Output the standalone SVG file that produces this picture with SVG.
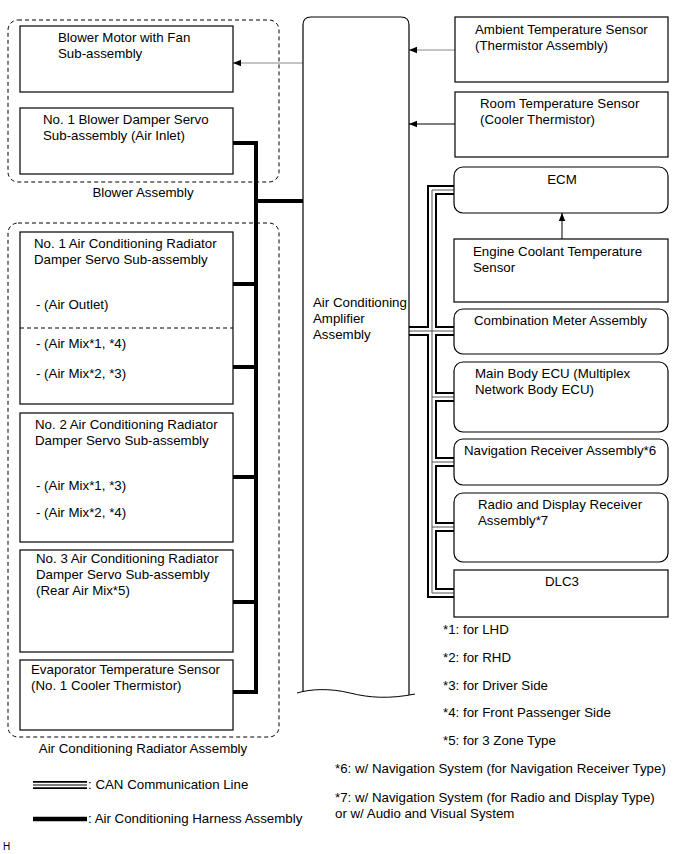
<svg xmlns="http://www.w3.org/2000/svg" width="691" height="854" viewBox="0 0 691 854">
<style>
text{font-family:"Liberation Sans",Arial,sans-serif;font-size:13.3px;fill:#000}
.box{fill:#fff;stroke:#000;stroke-width:1.2}
.grp{fill:none;stroke:#000;stroke-width:1;stroke-dasharray:4,3}
.harn{fill:none;stroke:#000;stroke-width:4;stroke-linejoin:miter}
.canB{fill:none;stroke:#000;stroke-width:10;stroke-linejoin:miter}
.canW{fill:none;stroke:#fff;stroke-width:6;stroke-linejoin:miter}
.canC{fill:none;stroke:#555;stroke-width:1;stroke-linejoin:miter}
.sig{fill:none;stroke:#000;stroke-width:1}
.sigg{fill:none;stroke:#888;stroke-width:1}
</style>
<defs>
<marker id="ah" viewBox="0 0 10 10" refX="10" refY="5" markerWidth="8" markerHeight="8" markerUnits="userSpaceOnUse" orient="auto">
<path d="M0,1 L10,5 L0,9 Z" fill="#000"/>
</marker>
</defs>
<rect width="691" height="854" fill="#fff"/>

<g id="blower-assembly">
<rect class="grp" x="8" y="20" width="271" height="162" rx="10"/>
<text x="143" y="197" text-anchor="middle">Blower Assembly</text>
</g>
<g id="ac-radiator-assembly">
<rect class="grp" x="8" y="223" width="271" height="514" rx="10"/>
<text x="143" y="753" text-anchor="middle">Air Conditioning Radiator Assembly</text>
</g>

<g id="connectors">
<path class="sigg" d="M303,63 H233" marker-end="url(#ah)"/>
<path class="sigg" d="M455,50 H409" marker-end="url(#ah)"/>
<path class="sig" d="M455,124 H409" marker-end="url(#ah)"/>
<path class="sig" d="M562,239 V213" marker-end="url(#ah)"/>
<g id="harness">
<path class="harn" d="M233,143 H256 V692 H233"/>
<path class="harn" d="M256,201 H303"/>
<path class="harn" d="M256,284 H233"/>
<path class="harn" d="M256,367 H233"/>
<path class="harn" d="M256,477 H233"/>
<path class="harn" d="M256,602 H233"/>
</g>
<g id="can">
<path class="canB" d="M454,190 H432 V593 H454 M409,331 H454 M432,397 H454 M432,462 H454 M432,527 H454"/>
<path class="canW" d="M454,190 H432 V593 H454 M409,331 H454 M432,397 H454 M432,462 H454 M432,527 H454"/>
<path class="canC" d="M454,190 H432 V593 H454 M409,331 H454 M432,397 H454 M432,462 H454 M432,527 H454"/>
</g>
</g>

<g id="amplifier">
<path d="M303,692 V25 Q303,17 311,17 H401 Q409,17 409,25 V695" fill="#fff" stroke="#000" stroke-width="1.2"/>
<path d="M297,693 C310,689 330,688 350,693 S390,699 415,694" fill="none" stroke="#000" stroke-width="1"/>
<text x="313" y="307">Air Conditioning</text>
<text x="313" y="323">Amplifier</text>
<text x="313" y="339">Assembly</text>
</g>

<g id="blower-motor">
<rect class="box" x="20" y="26" width="213" height="66"/>
<text x="58" y="42">Blower Motor with Fan</text>
<text x="58" y="58">Sub-assembly</text>
</g>
<g id="blower-damper-servo">
<rect class="box" x="20" y="108" width="213" height="66"/>
<text x="43" y="124">No. 1 Blower Damper Servo</text>
<text x="43" y="140">Sub-assembly (Air Inlet)</text>
</g>
<g id="no1-servo">
<rect class="box" x="20" y="232" width="213" height="172"/>
<line x1="20" y1="328" x2="233" y2="328" stroke="#000" stroke-width="1" stroke-dasharray="4,3"/>
<text x="34" y="248">No. 1 Air Conditioning Radiator</text>
<text x="34" y="264">Damper Servo Sub-assembly</text>
<text x="36" y="309">- (Air Outlet)</text>
<text x="36" y="348">- (Air Mix*1, *4)</text>
<text x="36" y="378">- (Air Mix*2, *3)</text>
</g>
<g id="no2-servo">
<rect class="box" x="20" y="413" width="213" height="129"/>
<text x="35" y="429">No. 2 Air Conditioning Radiator</text>
<text x="35" y="445">Damper Servo Sub-assembly</text>
<text x="36" y="490">- (Air Mix*1, *3)</text>
<text x="36" y="517">- (Air Mix*2, *4)</text>
</g>
<g id="no3-servo">
<rect class="box" x="20" y="550" width="213" height="102"/>
<text x="36" y="563">No. 3 Air Conditioning Radiator</text>
<text x="36" y="579">Damper Servo Sub-assembly</text>
<text x="36" y="595">(Rear Air Mix*5)</text>
</g>
<g id="evaporator-sensor">
<rect class="box" x="20" y="660" width="213" height="70"/>
<text x="31" y="674">Evaporator Temperature Sensor</text>
<text x="31" y="690">(No. 1 Cooler Thermistor)</text>
</g>

<g id="ambient-sensor">
<rect class="box" x="455" y="17" width="213" height="65"/>
<text x="475" y="34">Ambient Temperature Sensor</text>
<text x="475" y="50">(Thermistor Assembly)</text>
</g>
<g id="room-sensor">
<rect class="box" x="455" y="92" width="213" height="65"/>
<text x="480" y="108">Room Temperature Sensor</text>
<text x="480" y="124">(Cooler Thermistor)</text>
</g>
<g id="ecm">
<rect class="box" x="454" y="167" width="214" height="46" rx="9"/>
<text x="562" y="184" text-anchor="middle">ECM</text>
</g>
<g id="engine-coolant-sensor">
<rect class="box" x="454" y="239" width="214" height="63"/>
<text x="473" y="256">Engine Coolant Temperature</text>
<text x="473" y="272">Sensor</text>
</g>
<g id="combination-meter">
<rect class="box" x="454" y="309" width="214" height="45" rx="9"/>
<text x="474" y="325">Combination Meter Assembly</text>
</g>
<g id="main-body-ecu">
<rect class="box" x="454" y="362" width="214" height="70" rx="9"/>
<text x="475" y="378">Main Body ECU (Multiplex</text>
<text x="475" y="394">Network Body ECU)</text>
</g>
<g id="navigation-receiver">
<rect class="box" x="454" y="439" width="214" height="46" rx="9"/>
<text x="464" y="455">Navigation Receiver Assembly*6</text>
</g>
<g id="radio-display-receiver">
<rect class="box" x="454" y="493" width="214" height="69" rx="9"/>
<text x="478" y="509">Radio and Display Receiver</text>
<text x="478" y="525">Assembly*7</text>
</g>
<g id="dlc3">
<rect class="box" x="454" y="570" width="214" height="47"/>
<text x="562" y="586" text-anchor="middle">DLC3</text>
</g>

<g id="notes">
<text x="443" y="634">*1: for LHD</text>
<text x="443" y="662">*2: for RHD</text>
<text x="443" y="690">*3: for Driver Side</text>
<text x="443" y="717">*4: for Front Passenger Side</text>
<text x="443" y="745">*5: for 3 Zone Type</text>
<text x="335" y="773">*6: w/ Navigation System (for Navigation Receiver Type)</text>
<text x="335" y="802">*7: w/ Navigation System (for Radio and Display Type)</text>
<text x="335" y="818">or w/ Audio and Visual System</text>
</g>

<g id="legend">
<path d="M33,785 H87" stroke="#000" stroke-width="8" fill="none"/>
<path d="M33,785 H87" stroke="#fff" stroke-width="4.6" fill="none"/>
<path d="M33,785 H87" stroke="#000" stroke-width="1.2" fill="none"/>
<text x="88" y="789">: CAN Communication Line</text>
<path d="M33,819 H87" stroke="#000" stroke-width="4.5" fill="none"/>
<text x="88" y="823">: Air Conditioning Harness Assembly</text>
<text x="3" y="850" style="font-size:10px">H</text>
</g>
</svg>
